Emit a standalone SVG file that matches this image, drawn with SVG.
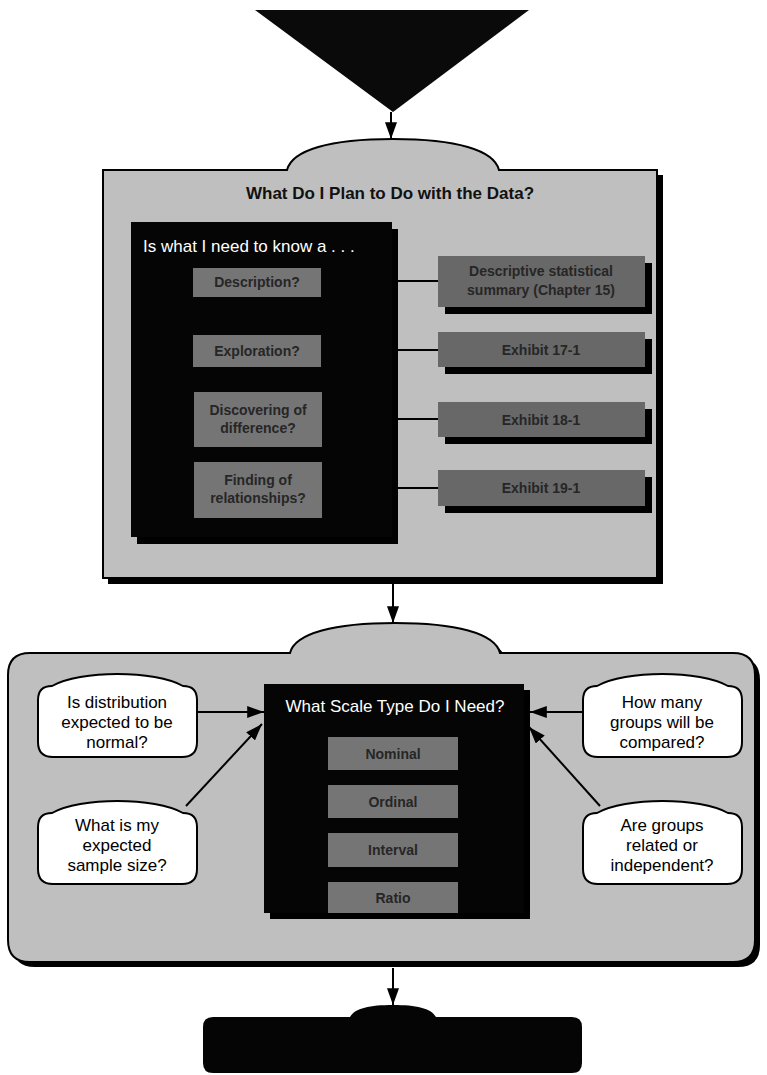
<svg xmlns="http://www.w3.org/2000/svg" width="767" height="1075" viewBox="0 0 767 1075">
<style>
  .panel { fill: #bfbfbf; stroke: #000; stroke-width: 2; }
  .shadow { fill: #000; }
  .dark { fill: #050505; }
  .gbox { fill: #757575; }
  .rbox { fill: #686868; }
  .wbox { fill: #fff; stroke: #000; stroke-width: 2; }
  .gtxt { font-family: "Liberation Sans", Arial, sans-serif; font-size: 14px; font-weight: bold; fill: #262626; text-anchor: middle; }
  .wtxt { font-family: "Liberation Sans", Arial, sans-serif; font-size: 17px; fill: #fff; }
  .btxt { font-family: "Liberation Sans", Arial, sans-serif; font-size: 17px; fill: #000; text-anchor: middle; }
  .title { font-family: "Liberation Sans", Arial, sans-serif; font-size: 17px; font-weight: bold; fill: #111; text-anchor: middle; }
  .line { stroke: #000; stroke-width: 2; fill: none; }
</style>
<defs>
  <marker id="ahL" viewBox="0 0 14 10" refX="14" refY="5" markerWidth="17" markerHeight="12" markerUnits="userSpaceOnUse" orient="auto">
    <path d="M0,0 L14,5 L0,10 Z" fill="#000"/>
  </marker>
</defs>
<rect width="767" height="1075" fill="#fff"/>

<g id="start">
  <path d="M255,10 L529,10 L393,112 Z" fill="#0a0a0a"/>
</g>

<g id="plan-panel">
  <rect class="shadow" x="108" y="175" width="555" height="409"/>
  <path class="panel" d="M103,170 H287 C292,150 330,139 393,139 C456,139 494,150 499,170 H657 V578 H103 Z"/>
  <text class="title" x="390" y="199">What Do I Plan to Do with the Data?</text>
</g>

<g id="know-box">
  <rect class="shadow" x="137" y="229" width="261" height="315"/>
  <rect class="dark" x="131" y="222" width="261" height="315"/>
  <text class="wtxt" x="143" y="252">Is what I need to know a . . .</text>
</g>

<g id="description">
  <rect class="gbox" x="193" y="268" width="128" height="29"/>
  <text class="gtxt" x="257" y="287">Description?</text>
</g>
<g id="exploration">
  <rect class="gbox" x="193" y="335" width="128" height="32"/>
  <text class="gtxt" x="257" y="356">Exploration?</text>
</g>
<g id="difference">
  <rect class="gbox" x="194" y="392" width="128" height="55"/>
  <text class="gtxt" x="258" y="415">Discovering of</text>
  <text class="gtxt" x="258" y="433">difference?</text>
</g>
<g id="relationships">
  <rect class="gbox" x="194" y="462" width="128" height="56"/>
  <text class="gtxt" x="258" y="485">Finding of</text>
  <text class="gtxt" x="258" y="503">relationships?</text>
</g>

<g id="descriptive-summary">
  <rect class="shadow" x="445" y="263" width="207" height="51"/>
  <rect class="rbox" x="438" y="256" width="207" height="51"/>
  <text class="gtxt" x="541" y="276">Descriptive statistical</text>
  <text class="gtxt" x="541" y="295">summary (Chapter 15)</text>
</g>
<g id="exhibit-17-1">
  <rect class="shadow" x="445" y="339" width="207" height="35"/>
  <rect class="rbox" x="438" y="332" width="207" height="35"/>
  <text class="gtxt" x="541" y="355">Exhibit 17-1</text>
</g>
<g id="exhibit-18-1">
  <rect class="shadow" x="445" y="409" width="207" height="35"/>
  <rect class="rbox" x="438" y="402" width="207" height="35"/>
  <text class="gtxt" x="541" y="425">Exhibit 18-1</text>
</g>
<g id="exhibit-19-1">
  <rect class="shadow" x="445" y="477" width="207" height="36"/>
  <rect class="rbox" x="438" y="470" width="207" height="36"/>
  <text class="gtxt" x="541" y="493">Exhibit 19-1</text>
</g>

<g id="scale-panel">
  <path class="shadow" transform="translate(5,5)" d="M30,653 H290 C295,633 335,623 395,623 C455,623 495,633 500,653 H733 Q755,653 755,675 V940 Q755,962 733,962 H30 Q8,962 8,940 V675 Q8,653 30,653 Z"/>
  <path class="panel" d="M30,653 H290 C295,633 335,623 395,623 C455,623 495,633 500,653 H733 Q755,653 755,675 V940 Q755,962 733,962 H30 Q8,962 8,940 V675 Q8,653 30,653 Z"/>
</g>

<g id="scale-box">
  <rect class="shadow" x="270" y="690" width="260" height="229"/>
  <rect class="dark" x="264" y="684" width="260" height="229"/>
  <text class="wtxt" x="395" y="712" text-anchor="middle">What Scale Type Do I Need?</text>
</g>
<g id="nominal">
  <rect class="gbox" x="328" y="737" width="130" height="33"/>
  <text class="gtxt" x="393" y="759">Nominal</text>
</g>
<g id="ordinal">
  <rect class="gbox" x="328" y="785" width="130" height="33"/>
  <text class="gtxt" x="393" y="807">Ordinal</text>
</g>
<g id="interval">
  <rect class="gbox" x="328" y="833" width="130" height="34"/>
  <text class="gtxt" x="393" y="855">Interval</text>
</g>
<g id="ratio">
  <rect class="gbox" x="328" y="882" width="130" height="31"/>
  <text class="gtxt" x="393" y="903">Ratio</text>
</g>

<g id="distribution">
  <path class="wbox" d="M38,700 Q38,686 52,686 C80,670 155,670 183,686 Q197,686 197,700 V742 Q197,757 182,757 H53 Q38,757 38,742 Z"/>
  <text class="btxt" x="117" y="708">Is distribution</text>
  <text class="btxt" x="117" y="728">expected to be</text>
  <text class="btxt" x="117" y="748">normal?</text>
</g>
<g id="sample-size">
  <path class="wbox" d="M38,827 Q38,813 52,813 C80,797 155,797 183,813 Q197,813 197,827 V869 Q197,884 182,884 H53 Q38,884 38,869 Z"/>
  <text class="btxt" x="117" y="831">What is my</text>
  <text class="btxt" x="117" y="851">expected</text>
  <text class="btxt" x="117" y="871">sample size?</text>
</g>
<g id="groups-count">
  <path class="wbox" d="M583,700 Q583,686 597,686 C625,670 700,670 728,686 Q742,686 742,700 V742 Q742,757 727,757 H598 Q583,757 583,742 Z"/>
  <text class="btxt" x="662" y="708">How many</text>
  <text class="btxt" x="662" y="728">groups will be</text>
  <text class="btxt" x="662" y="748">compared?</text>
</g>
<g id="groups-related">
  <path class="wbox" d="M583,827 Q583,813 597,813 C625,797 700,797 728,813 Q742,813 742,827 V869 Q742,884 727,884 H598 Q583,884 583,869 Z"/>
  <text class="btxt" x="662" y="831">Are groups</text>
  <text class="btxt" x="662" y="851">related or</text>
  <text class="btxt" x="662" y="871">independent?</text>
</g>

<g id="end">
  <path d="M213,1017 H350 C355,1008 370,1005 393,1005 C416,1005 431,1008 436,1017 H572 Q582,1017 582,1027 V1063 Q582,1073 572,1073 H213 Q203,1073 203,1063 V1027 Q203,1017 213,1017 Z" fill="#050505"/>
</g>

<g id="connectors">
  <line class="line" x1="391" y1="112" x2="391" y2="139" marker-end="url(#ahL)"/>
  <line class="line" x1="393" y1="584" x2="393" y2="623" marker-end="url(#ahL)"/>
  <line class="line" x1="393" y1="968" x2="393" y2="1005" marker-end="url(#ahL)"/>
  <line class="line" x1="398" y1="281" x2="438" y2="281"/>
  <line class="line" x1="398" y1="350" x2="438" y2="350"/>
  <line class="line" x1="398" y1="419" x2="438" y2="419"/>
  <line class="line" x1="398" y1="488" x2="438" y2="488"/>
  <line class="line" x1="197" y1="712" x2="264" y2="712" marker-end="url(#ahL)"/>
  <line class="line" x1="186" y1="806" x2="262" y2="724" marker-end="url(#ahL)"/>
  <line class="line" x1="583" y1="712" x2="530" y2="712" marker-end="url(#ahL)"/>
  <line class="line" x1="600" y1="806" x2="529" y2="727" marker-end="url(#ahL)"/>
</g>
</svg>
